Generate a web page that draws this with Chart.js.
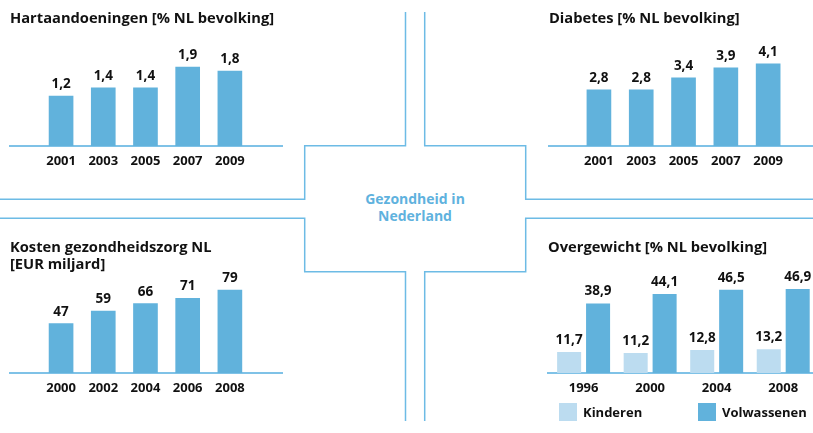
<!DOCTYPE html>
<html>
<head>
<meta charset="utf-8">
<script src="https://cdn.jsdelivr.net/npm/chart.js@4.4.1/dist/chart.umd.min.js"></script>
<style>
  html, body { margin: 0; padding: 0; background: #ffffff; }
  body { width: 813px; height: 433px; position: relative; overflow: hidden; font-family: "Open Sans", sans-serif; }
  canvas { position: absolute; }
  #cross { position: absolute; left: 0; top: 0; }
  #center { position: absolute; left: 335px; top: 190px; width: 160px; text-align: center;
            color: #5fb2de; font: 700 14px/17px "Open Sans", sans-serif; }
  #legend4 { position: absolute; left: 559px; top: 403px; height: 18px; }
  .lg { position: absolute; top: 0; display: flex; align-items: center; white-space: nowrap;
        font: 700 13px "Open Sans", sans-serif; color: #111; }
  .lg span.sw { display: inline-block; width: 18px; height: 18px; margin-right: 6px; }
</style>
</head>
<body>
<svg id="cross" width="813" height="433">
  <g fill="none" stroke="#6dbbe5" stroke-width="1.5">
    <polyline points="405.5,12 405.5,145.7 304.7,145.7 304.7,199.3 0,199.3"/>
    <polyline points="0,218.3 304.7,218.3 304.7,271.7 405.5,271.7 405.5,421"/>
    <polyline points="424.7,12 424.7,145.7 525.7,145.7 525.7,199.3 813,199.3"/>
    <polyline points="813,218.3 525.7,218.3 525.7,271.7 424.7,271.7 424.7,421"/>
  </g>
</svg>
<div id="center">Gezondheid in<br>Nederland</div>

<canvas id="c1" width="300" height="176" style="left:0;top:0"></canvas>
<canvas id="c2" width="293" height="176" style="left:520px;top:0"></canvas>
<canvas id="c3" width="300" height="213" style="left:0;top:220px"></canvas>
<canvas id="c4" width="293" height="213" style="left:520px;top:220px"></canvas>
<div id="legend4"></div>

<script>
// ---- data ----
const heartYears = [2001, 2003, 2005, 2007, 2009];
const heartValues = [1.2, 1.4, 1.4, 1.9, 1.8];

const diabetesYears = [2001, 2003, 2005, 2007, 2009];
const diabetesValues = [2.8, 2.8, 3.4, 3.9, 4.1];

const costYears = [2000, 2002, 2004, 2006, 2008];
const costValues = [47, 59, 66, 71, 79];

const weightYears = [1996, 2000, 2004, 2008];
const weightChildren = [11.7, 11.2, 12.8, 13.2];
const weightAdults = [38.9, 44.1, 46.5, 46.9];

const titles = {
  heart: 'Hartaandoeningen [% NL bevolking]',
  diabetes: 'Diabetes [% NL bevolking]',
  cost: ['Kosten gezondheidszorg NL', '[EUR miljard]'],
  weight: 'Overgewicht [% NL bevolking]'
};
const seriesNames = ['Kinderen', 'Volwassenen'];

// ---- style ----
const BAR = '#61b2dc';
const BAR_LIGHT = '#bcdcf0';
const AXIS = '#7fc2e7';
const TEXT = '#111111';
const FONT = '"Open Sans", sans-serif';

function fmt(v) { return String(v).replace('.', ','); }
function pts(xs, ys) { return xs.map((x, i) => ({ x: x, y: ys[i] })); }

const valueLabels = {
  id: 'valueLabels',
  afterDatasetsDraw(chart) {
    const ctx = chart.ctx;
    ctx.save();
    ctx.font = '700 13.5px ' + FONT;
    ctx.fillStyle = TEXT;
    ctx.textAlign = 'center';
    ctx.textBaseline = 'alphabetic';
    chart.data.datasets.forEach((ds, di) => {
      chart.getDatasetMeta(di).data.forEach((bar, i) => {
        ctx.fillText(fmt(ds.data[i].y), bar.x, bar.y - 8);
      });
    });
    ctx.restore();
  }
};

function makeChart(id, cfg) {
  const years = cfg.years;
  return new Chart(document.getElementById(id), {
    type: 'bar',
    data: { datasets: cfg.datasets },
    options: {
      responsive: false,
      animation: false,
      events: [],
      layout: { padding: cfg.padding },
      categoryPercentage: cfg.catPct || 0.8,
      barPercentage: cfg.barPct || 0.9,
      plugins: {
        legend: { display: false },
        tooltip: { enabled: false },
        title: {
          display: true,
          text: cfg.title,
          align: 'start',
          color: TEXT,
          font: { family: FONT, size: 14.7, weight: '700', lineHeight: 1.15 },
          padding: cfg.titlePad
        }
      },
      scales: {
        x: {
          type: 'linear',
          offset: false,
          min: cfg.xmin,
          max: cfg.xmax,
          afterBuildTicks: (axis) => { axis.ticks = years.map(v => ({ value: v })); },
          afterFit: (axis) => { axis.height = 30; },
          grid: { display: false, drawTicks: false },
          border: { display: true, color: AXIS, width: 2 },
          ticks: {
            autoSkip: false,
            padding: 7,
            color: TEXT,
            font: { family: FONT, size: 13, weight: '700' },
            callback: (v) => String(v)
          }
        },
        y: { display: false, min: 0, max: cfg.ymax }
      }
    },
    plugins: [valueLabels]
  });
}

makeChart('c1', {
  years: heartYears,
  datasets: [{ label: titles.heart, data: pts(heartYears, heartValues), backgroundColor: BAR, barThickness: 24 }],
  padding: { left: 10, right: 18, top: 0, bottom: 0 },
  title: titles.heart, titlePad: { top: 10, bottom: 11 },
  xmin: 1998.58, xmax: 2011.47, ymax: 2.6
});

makeChart('c2', {
  years: diabetesYears,
  datasets: [{ label: titles.diabetes, data: pts(diabetesYears, diabetesValues), backgroundColor: BAR, barThickness: 24 }],
  padding: { left: 29, right: 0, top: 0, bottom: 0 },
  title: titles.diabetes, titlePad: { top: 10, bottom: 11 },
  xmin: 1998.64, xmax: 2011.12, ymax: 5.4
});

makeChart('c3', {
  years: costYears,
  datasets: [{ label: 'Kosten', data: pts(costYears, costValues), backgroundColor: BAR, barThickness: 24 }],
  padding: { left: 10, right: 18, top: 0, bottom: 30 },
  title: titles.cost, titlePad: { top: 19.6, bottom: 5 },
  xmin: 1997.58, xmax: 2010.47, ymax: 90
});

const c4 = makeChart('c4', {
  years: weightYears,
  datasets: [
    { label: seriesNames[0], data: pts(weightYears, weightChildren), backgroundColor: BAR_LIGHT },
    { label: seriesNames[1], data: pts(weightYears, weightAdults), backgroundColor: BAR }
  ],
  catPct: 0.87, barPct: 0.83,
  padding: { left: 28, right: 0, top: 0, bottom: 30 },
  title: titles.weight, titlePad: { top: 19.6, bottom: 10 },
  xmin: 1993.86, xmax: 2009.79, ymax: 59.5
});

// HTML legend built from the chart's datasets
const legendEl = document.getElementById('legend4');
const legendOffsets = [0, 139];
c4.data.datasets.forEach((ds, i) => {
  const item = document.createElement('div');
  item.className = 'lg';
  item.style.left = legendOffsets[i] + 'px';
  const sw = document.createElement('span');
  sw.className = 'sw';
  sw.style.background = ds.backgroundColor;
  item.appendChild(sw);
  item.appendChild(document.createTextNode(ds.label));
  legendEl.appendChild(item);
});
</script>
</body>
</html>
